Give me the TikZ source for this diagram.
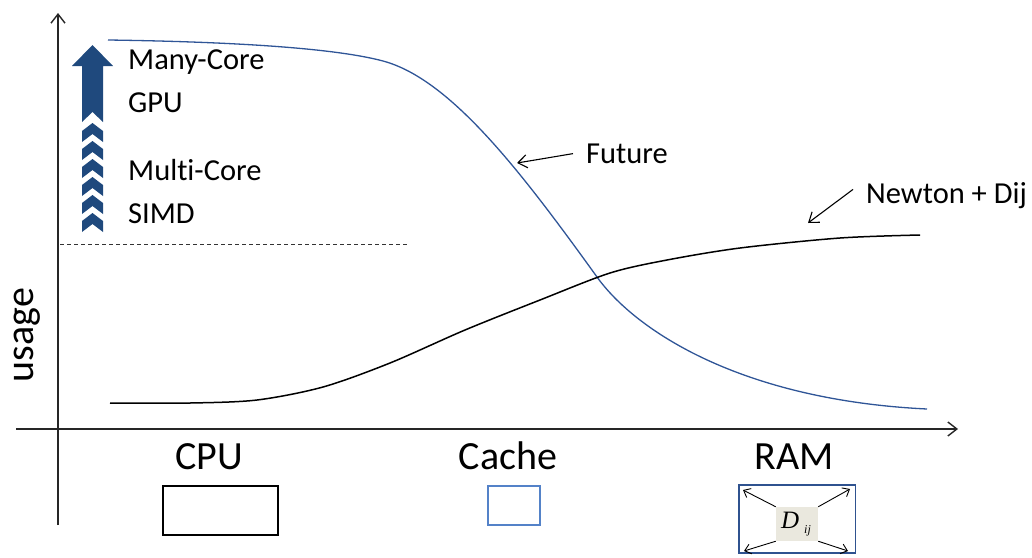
\documentclass[tikz,border=0pt]{standalone}
\usepackage{fontspec}
\setmainfont{Carlito}[Ligatures=NoCommon]
\newfontfamily\tnr{Liberation Serif}
\usetikzlibrary{arrows.meta}
\definecolor{curveblue}{RGB}{47,85,151}
\definecolor{arrowblue}{RGB}{31,73,125}
\definecolor{cacheblue}{RGB}{84,130,200}
\definecolor{ramblue}{RGB}{47,82,143}
\definecolor{dboxfill}{RGB}{234,232,222}
\begin{document}
\begin{tikzpicture}[x=1pt,y=-1pt,
  axisline/.style={draw=black!85, line width=1.4pt, -{Straight Barb[length=9pt,width=14pt,line width=1.4pt]}},
  lbl/.style={font=\fontsize{30.5}{30.5}\selectfont, inner sep=0pt},
  biglbl/.style={font=\fontsize{40}{40}\selectfont, inner sep=0pt},
  ptr/.style={draw=black, line width=1.1pt, -{Straight Barb[length=9pt,width=13pt,line width=1.1pt]}},
  smallptr/.style={draw=black, line width=0.9pt, -{Straight Barb[length=6pt,width=10pt,line width=0.9pt]}},
  memsbox/.style={inner sep=0pt}
]
\useasboundingbox (0,0) rectangle (1032,557);

% axes
\coordinate (yb) at (58,525); \coordinate (yt) at (58,13);
\coordinate (xl) at (16,429); \coordinate (xr) at (958,429);
\draw[axisline] (yb) -- (yt);
\draw[axisline] (xl) -- (xr);

% dashed threshold
\coordinate (d1) at (60,244); \coordinate (d2) at (407,244);
\draw[black!80, line width=0.9pt, dash pattern=on 4pt off 3pt] (d1) -- (d2);

% blue curve (Future)
\draw[curveblue, line width=1.3pt] (108,40) .. controls (250,42) and (340,49.5) .. (383,61)
  .. controls (450,79) and (520,170) .. (597,277)
  .. controls (635,330) and (740,400) .. (927,409);

% black curve (Newton + Dij)
\draw[black, line width=1.5pt] plot[smooth, tension=0.5] coordinates
 {(110,403) (190,403) (257,400) (323,387) (390,363) (465,330) (540,300) (610,273) (667,260) (740,248) (840,238) (920,235)};

% big arrow
\fill[arrowblue] (92.5,45) -- (113,66) -- (103,66) -- (103,122) -- (92.5,112) -- (82,122) -- (82,66) -- (72,66) -- cycle;
% chevrons
\foreach \t in {123,141,...,213}
  \fill[arrowblue] (82,\t+8) -- (92.5,\t) -- (103,\t+8) -- (103,\t+19) -- (92.5,\t+11) -- (82,\t+19) -- cycle;

% stack labels
\node[lbl, anchor=base west] (many) at (128,69.3) {Many-Core};
\node[lbl, anchor=base west] (gpu) at (128,112.7) {GPU};
\node[lbl, anchor=base west] (multi) at (128,180) {Multi-Core};
\node[lbl, anchor=base west] (simd) at (128,223.3) {SIMD};

% y label
\node[biglbl, anchor=base, rotate=90] (usage) at (33,335) {usage};

% curve labels
\node[lbl, anchor=base west] (fut) at (586,163.3) {Future};
\coordinate (futtip) at (517,163);
\draw[ptr] ([xshift=-13pt]fut.west) -- (futtip);

\node[lbl, anchor=base west] (newt) at (866,203.3) {Newton + Dij};
\coordinate (newtip) at (808,223);
\draw[ptr] ([xshift=-13pt,yshift=6pt]newt.west) -- (newtip);

% x labels
\node[biglbl, anchor=base] (cpu) at (209,469) {CPU};
\node[biglbl, anchor=base] (cache) at (508,469) {Cache};
\node[biglbl, anchor=base] (ram) at (794,469) {RAM};

% memory boxes
\node[memsbox, draw=black, line width=1.5pt, minimum width=115pt, minimum height=49pt] (cpubox) at (220.3,510.5) {};
\node[memsbox, draw=cacheblue, line width=1.4pt, minimum width=52pt, minimum height=39pt] (cachebox) at (514,505.5) {};
\node[memsbox, draw=ramblue, line width=1.4pt, minimum width=116.5pt, minimum height=68pt] (rambox) at (797.3,519) {};
\node[memsbox, fill=dboxfill, minimum width=42pt, minimum height=34pt] (dbox) at (797,524) {};
\node[inner sep=0pt] (dlbl) at (796,524) {\tnr\itshape\fontsize{25}{25}\selectfont D\hspace{5pt}\raisebox{-5pt}{\fontsize{12}{12}\selectfont ij}};

\coordinate (c1) at (743,490);
\coordinate (c2) at (850,489);
\coordinate (c3) at (744,551);
\coordinate (c4) at (848,551);
\draw[smallptr] (dbox.north west) -- (c1);
\draw[smallptr] (dbox.north east) -- (c2);
\draw[smallptr] (dbox.south west) -- (c3);
\draw[smallptr] (dbox.south east) -- (c4);
\end{tikzpicture}
\end{document}
